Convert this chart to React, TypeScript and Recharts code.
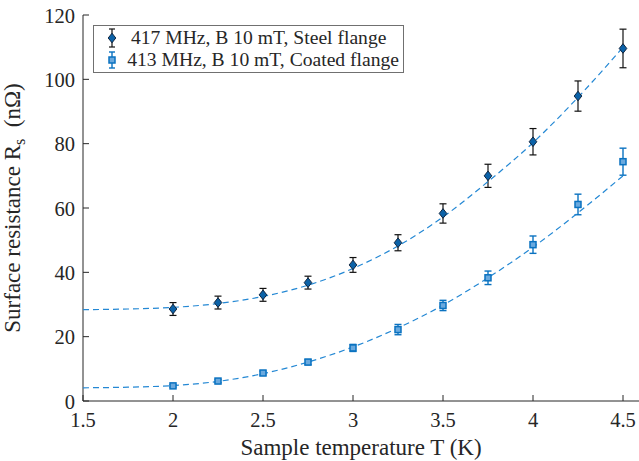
import React from 'react'
import { ComposedChart, Scatter, XAxis, YAxis, ErrorBar, Legend } from 'recharts'

// measured points (T in K, Rs in nOhm)
const TEMPS = [2, 2.25, 2.5, 2.75, 3, 3.25, 3.5, 3.75, 4, 4.25, 4.5]
const STEEL_RS = [28.6, 30.6, 33.0, 36.8, 42.3, 49.2, 58.3, 70.0, 80.6, 94.8, 109.6]
const STEEL_ERR = [2.0, 2.0, 2.0, 2.0, 2.3, 2.5, 3.0, 3.6, 4.1, 4.7, 6.0]
const COATED_RS = [4.7, 6.2, 8.7, 12.1, 16.5, 22.2, 29.7, 38.3, 48.6, 61.1, 74.4]
const COATED_ERR = [0.4, 0.5, 0.6, 0.8, 1.1, 1.6, 1.6, 2.1, 2.7, 3.2, 4.2]

// fitted curves
const FIT_T = [1.5, 1.75, 2, 2.25, 2.5, 2.75, 3, 3.25, 3.5, 3.75, 4, 4.25, 4.5]
const STEEL_FIT = [28.4, 28.6, 29.1, 30.3, 32.5, 36.0, 41.2, 48.2, 57.2, 68.2, 80.3, 94.4, 110.0]
const COATED_FIT = [4.1, 4.3, 4.8, 6.1, 8.5, 12.1, 16.8, 22.7, 29.8, 38.3, 47.8, 58.5, 70.0]

const X_TICKS = [1.5, 2, 2.5, 3, 3.5, 4, 4.5]
const Y_TICKS = [0, 20, 40, 60, 80, 100, 120]

const steelData = TEMPS.map((t, i) => ({ t, rs: STEEL_RS[i], err: STEEL_ERR[i] }))
const coatedData = TEMPS.map((t, i) => ({ t, rs: COATED_RS[i], err: COATED_ERR[i] }))
const steelFit = FIT_T.map((t, i) => ({ t, rs: STEEL_FIT[i] }))
const coatedFit = FIT_T.map((t, i) => ({ t, rs: COATED_FIT[i] }))

const FONT = '"Liberation Serif", "DejaVu Serif", serif'
const AXIS = '#262626'
const FIT_COLOR = '#2488d4'
const STEEL_FILL = '#0b62a8'
const SQUARE = '#0a72c0'

function Diamond(props: any) {
  const { cx, cy } = props
  return (
    <polygon
      points={`${cx},${cy - 4.8} ${cx + 3.8},${cy} ${cx},${cy + 4.8} ${cx - 3.8},${cy}`}
      fill={STEEL_FILL}
      stroke="#10253f"
      strokeWidth={1}
    />
  )
}

function Square(props: any) {
  const { cx, cy } = props
  return <rect x={cx - 3} y={cy - 3} width={6} height={6} fill="#6aa9de" stroke={SQUARE} strokeWidth={1.5} />
}

const NoDot = () => null

function BottomTick(props: any) {
  const { x, y, payload } = props
  return (
    <g>
      <line x1={x} y1={y} x2={x} y2={y - 6} stroke={AXIS} />
      <text x={x} y={y + 26} textAnchor="middle" fontFamily={FONT} fontSize={20.5} fill={AXIS}>
        {payload.value}
      </text>
    </g>
  )
}

function TopTick(props: any) {
  const { x, y } = props
  return <line x1={x} y1={y} x2={x} y2={y + 6} stroke={AXIS} />
}

function LeftTick(props: any) {
  const { x, y, payload } = props
  return (
    <g>
      <line x1={x} y1={y} x2={x + 6} y2={y} stroke={AXIS} />
      <text x={x - 8} y={y + 7.5} textAnchor="end" fontFamily={FONT} fontSize={20.5} fill={AXIS}>
        {payload.value}
      </text>
    </g>
  )
}

function RightTick(props: any) {
  const { x, y } = props
  return <line x1={x} y1={y} x2={x - 6} y2={y} stroke={AXIS} />
}

function XTitle(props: any) {
  const { viewBox } = props
  return (
    <text x={361} y={viewBox.y + 54} textAnchor="middle" fontFamily={FONT} fontSize={23} fill={AXIS}>
      Sample temperature T (K)
    </text>
  )
}

function YTitle(props: any) {
  const { viewBox } = props
  const cx = viewBox.x + 20
  const cy = viewBox.y + viewBox.height / 2
  return (
    <text x={cx} y={cy} transform={`rotate(-90 ${cx} ${cy})`} textAnchor="middle" fontFamily={FONT} fontSize={23} fill={AXIS}>
      Surface resistance R
      <tspan fontSize={16} dy={5}>s</tspan>
      <tspan dy={-5}>{'\u00a0\u00a0(nΩ)'}</tspan>
    </text>
  )
}

function LegendBox() {
  const row = { display: 'flex', alignItems: 'center', height: 22 }
  return (
    <div style={{
      border: '1px solid #707070',
      background: '#fff',
      padding: '1px 4px 1px 9px',
      width: 296,
      fontFamily: FONT,
      fontSize: 19.6,
      color: AXIS,
      lineHeight: 1,
      whiteSpace: 'nowrap',
    }}>
      <div style={row}>
        <svg width={18} height={22} style={{ marginRight: 10 }}>
          <line x1={9} y1={2} x2={9} y2={20} stroke="#111" strokeWidth={1.2} />
          <line x1={6} y1={2} x2={12} y2={2} stroke="#111" strokeWidth={1.2} />
          <line x1={6} y1={20} x2={12} y2={20} stroke="#111" strokeWidth={1.2} />
          <Diamond cx={9} cy={11} />
        </svg>
        417 MHz, B 10 mT, Steel flange
      </div>
      <div style={row}>
        <svg width={18} height={22} style={{ marginRight: 10 }}>
          <line x1={9} y1={3} x2={9} y2={19} stroke={SQUARE} strokeWidth={1.4} />
          <line x1={6} y1={3} x2={12} y2={3} stroke={SQUARE} strokeWidth={1.4} />
          <line x1={6} y1={19} x2={12} y2={19} stroke={SQUARE} strokeWidth={1.4} />
          <Square cx={9} cy={11} />
        </svg>
        413 MHz, B 10 mT, Coated flange
      </div>
    </div>
  )
}

export default function App() {
  return (
    <div style={{ position: 'absolute', left: 0, top: 0, width: 639, height: 461, overflow: 'hidden', background: '#fff' }}>
      <ComposedChart width={642} height={461} margin={{ top: 15, right: 1, left: 0, bottom: 0 }}>
        <XAxis
          xAxisId="b"
          dataKey="t"
          type="number"
          domain={[1.5, 4.6]}
          ticks={X_TICKS}
          allowDataOverflow
          height={60}
          tickSize={0}
          tickMargin={0}
          tickLine={false}
          tick={<BottomTick />}
          axisLine={{ stroke: AXIS }}
          label={<XTitle />}
        />
        <XAxis
          xAxisId="top"
          orientation="top"
          dataKey="t"
          type="number"
          domain={[1.5, 4.6]}
          ticks={X_TICKS}
          allowDataOverflow
          height={0}
          tickSize={0}
          tickMargin={0}
          tickLine={false}
          tick={<TopTick />}
          axisLine={{ stroke: AXIS }}
        />
        <YAxis
          yAxisId="l"
          dataKey="rs"
          type="number"
          domain={[0, 120]}
          ticks={Y_TICKS}
          allowDataOverflow
          width={83}
          tickSize={0}
          tickMargin={0}
          tickLine={false}
          tick={<LeftTick />}
          axisLine={{ stroke: AXIS }}
          label={<YTitle />}
        />
        <YAxis
          yAxisId="r"
          orientation="right"
          dataKey="rs"
          type="number"
          domain={[0, 120]}
          ticks={Y_TICKS}
          allowDataOverflow
          width={0}
          tickSize={0}
          tickMargin={0}
          tickLine={false}
          tick={<RightTick />}
          axisLine={{ stroke: AXIS }}
        />
        <Legend
          layout="vertical"
          align="center"
          verticalAlign="middle"
          content={<LegendBox />}
          wrapperStyle={{ position: 'absolute', left: 93, top: 25, width: 'auto' }}
        />
        <Scatter
          xAxisId="b"
          yAxisId="l"
          data={steelFit}
          dataKey="rs"
          shape={<NoDot />}
          line={{ stroke: FIT_COLOR, strokeWidth: 1.2, strokeDasharray: '6 4' }}
          lineJointType="monotoneX"
          legendType="none"
          isAnimationActive={false}
        />
        <Scatter
          xAxisId="b"
          yAxisId="l"
          data={coatedFit}
          dataKey="rs"
          shape={<NoDot />}
          line={{ stroke: FIT_COLOR, strokeWidth: 1.2, strokeDasharray: '6 4' }}
          lineJointType="monotoneX"
          legendType="none"
          isAnimationActive={false}
        />
        <Scatter
          xAxisId="b"
          yAxisId="l"
          data={steelData}
          dataKey="rs"
          shape={<Diamond />}
          isAnimationActive={false}
        >
          <ErrorBar dataKey="err" direction="y" width={3.5} stroke="#111" strokeWidth={1.2} isAnimationActive={false} />
        </Scatter>
        <Scatter
          xAxisId="b"
          yAxisId="l"
          data={coatedData}
          dataKey="rs"
          shape={<Square />}
          isAnimationActive={false}
        >
          <ErrorBar dataKey="err" direction="y" width={3.5} stroke={SQUARE} strokeWidth={1.4} isAnimationActive={false} />
        </Scatter>
      </ComposedChart>
    </div>
  )
}
